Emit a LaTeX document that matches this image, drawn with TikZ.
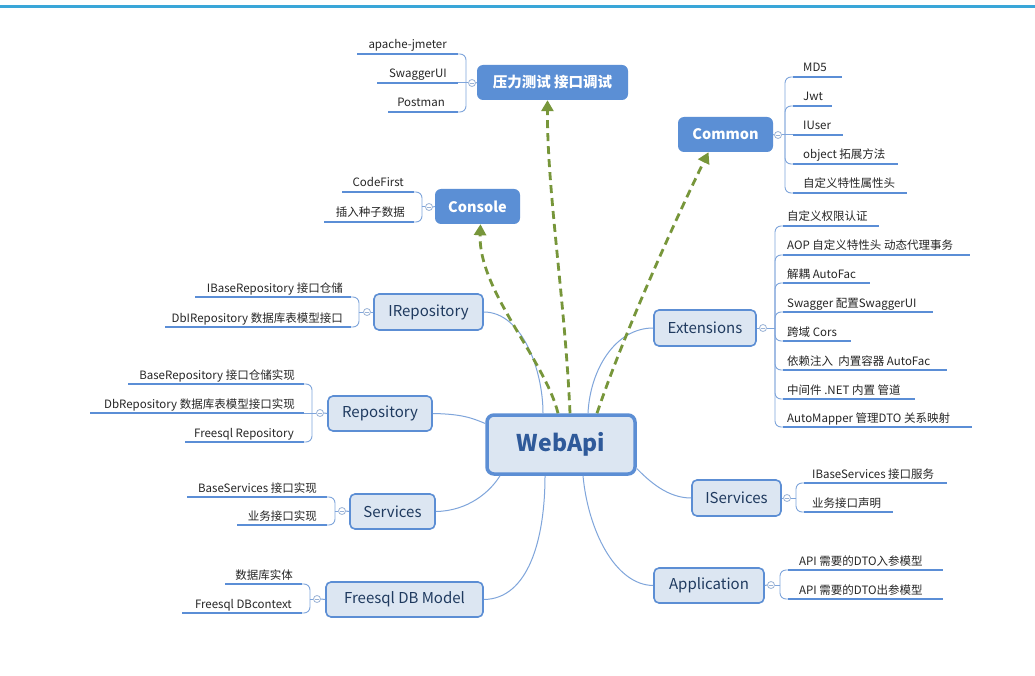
\documentclass[tikz,border=0pt]{standalone}
\usepackage{fontspec}
\setmainfont{Noto Sans CJK SC}
\usetikzlibrary{arrows.meta}
\definecolor{topbar}{HTML}{3AA6D8}
\definecolor{nodefill}{HTML}{DCE6F2}
\definecolor{nodeline}{HTML}{5C8ED4}
\definecolor{darkfill}{HTML}{5B8FD5}
\definecolor{txt}{HTML}{1F3A5F}
\definecolor{webtxt}{HTML}{2F5A9A}
\definecolor{ulcol}{HTML}{5B8ED6}
\definecolor{brkcol}{HTML}{7FA5DB}
\definecolor{gdash}{HTML}{77963A}
\definecolor{circcol}{HTML}{9AB3D6}
\tikzset{
  topic/.style={draw=nodeline, line width=1.6pt, fill=nodefill, rounded corners=5pt, text=txt, font=\fontsize{15}{18}\selectfont, inner sep=0pt},
  mainbox/.style={draw=nodeline, line width=3.5pt, fill=nodefill, rounded corners=7pt, text=webtxt, font=\fontsize{23}{26}\selectfont\bfseries, inner sep=0pt},
  darkbox/.style={fill=darkfill, draw=none, rounded corners=6pt, text=white, font=\fontsize{14.5}{17}\selectfont\bfseries, inner sep=0pt},
  leaf/.style={font=\fontsize{11.5}{13}\selectfont, text=black!85, inner sep=0pt},
  ul/.style={draw=ulcol, line width=2.6pt},
  brkline/.style={draw=brkcol, line width=0.9pt, rounded corners=6pt},
  conn/.style={draw=brkcol, line width=1pt},
  garrow/.style={draw=gdash, line width=2.8pt, dash pattern=on 8pt off 5pt, -{Triangle[length=11pt,width=12pt]}},
  circ/.style={circle, draw=circcol, fill=white, line width=0.8pt, minimum size=7pt, inner sep=0pt,
    path picture={\draw[circcol, line width=0.7pt] ([xshift=-2pt]path picture bounding box.center) -- ([xshift=2pt]path picture bounding box.center);}}
}
\newcommand\LLeaf[5]{%
  \node[leaf,anchor=base east] (#1) at (#3,#2-5) {#5};
  \draw[ul] (#4,#2) -- (\gbx-8,#2);
  \draw[brkline] (\gbx,\gcy) -- (\gbx,#2) -- (\gbx-8,#2);}
\newcommand\LLeafS[5]{%
  \node[leaf,anchor=base east] (#1) at (#3,#2-5) {#5};
  \draw[ul] (#4,#2) -- (\gbx-8,#2);
  \draw[conn] (\gbx-8,#2) -- (\gbx,#2);}
\newcommand\RLeaf[5]{%
  \node[leaf,anchor=base west] (#1) at (#3,#2-5) {#5};
  \draw[ul] (\gbx+8,#2) -- (#4,#2);
  \draw[brkline] (\gbx,\gcy) -- (\gbx,#2) -- (\gbx+8,#2);}
\newcommand\RLeafS[5]{%
  \node[leaf,anchor=base west] (#1) at (#3,#2-5) {#5};
  \draw[ul] (\gbx+8,#2) -- (#4,#2);
  \draw[conn] (\gbx,#2) -- (\gbx+8,#2);}
\begin{document}
\begin{tikzpicture}[x=1pt,y=-1pt]
\useasboundingbox (0,0) rectangle (1035,676);
\fill[white] (0,0) rectangle (1035,676);
\fill[topbar] (0,5) rectangle (1035,8);

% main and topic nodes
\node[mainbox, minimum width=148pt, minimum height=59pt] (web) at (561,444.5) {WebApi};
\node[topic, minimum width=109pt, minimum height=36pt] (irepo) at (428.5,312) {IRepository};
\node[topic, minimum width=104pt, minimum height=35pt] (repo) at (380,413.5) {Repository};
\node[topic, minimum width=85pt, minimum height=35pt] (serv) at (392.5,511.5) {Services};
\node[topic, minimum width=157pt, minimum height=35pt] (model) at (404.5,599.5) {Freesql DB Model};
\node[topic, minimum width=102pt, minimum height=36pt] (ext) at (705,328) {Extensions};
\node[topic, minimum width=89pt, minimum height=36pt] (iserv) at (736.5,498) {IServices};
\node[topic, minimum width=110pt, minimum height=35pt] (app) at (709,585.5) {Application};
\node[darkbox, minimum width=151pt, minimum height=35pt] (test) at (552.5,82.5) {压力测试 接口调试};
\node[darkbox, minimum width=95pt, minimum height=35pt] (common) at (725.5,134.5) {Common};
\node[darkbox, minimum width=85pt, minimum height=35pt] (console) at (477.5,206.5) {Console};

% connectors from the centre
\draw[conn] (irepo.east) .. controls (522,312) and (543,370) .. ([xshift=-18pt]web.north);
\draw[conn] (repo.east) .. controls (462,414) and (472,418) .. ([yshift=21pt]web.west);
\draw[conn] (serv.east) .. controls (468,511) and (490,492) .. ([xshift=-61pt]web.south);
\draw[conn] (model.east) .. controls (528,599) and (545,540) .. ([xshift=-16pt]web.south);
\draw[conn] (ext.west) .. controls (615,328) and (590,370) .. ([xshift=27pt]web.north);
\draw[conn] (iserv.west) .. controls (668,498) and (650,482) .. ([yshift=-24pt]web.east);
\draw[conn] (app.west) .. controls (615,585) and (588,530) .. ([xshift=22pt]web.south);

\draw[garrow] ([xshift=-3pt]web.north) .. controls (545,360) and (478,290) .. ([xshift=3pt]console.south);
\draw[garrow] ([xshift=9pt]web.north) .. controls (565,300) and (547,190) .. ([xshift=-5pt]test.south);
\draw[garrow] ([xshift=36pt]web.north) .. controls (625,330) and (680,210) .. ([xshift=-17pt]common.south);

% 压力测试 group
\def\gbx{466}\def\gcy{83}
\node[circ] (ctest) at (472,83) {};
\draw[conn] (test.west) -- (ctest.east);
\draw[conn] (ctest.west) -- (\gbx,\gcy);
\LLeaf{t1}{54}{447}{357}{apache-jmeter}
\LLeafS{t2}{83}{447}{377}{SwaggerUI}
\LLeaf{t3}{112}{445}{388}{Postman}

% Console group
\def\gbx{422}\def\gcy{207}
\node[circ] (cconsole) at (429,207) {};
\draw[conn] (console.west) -- (cconsole.east);
\draw[conn] (cconsole.west) -- (\gbx,\gcy);
\LLeaf{c1}{192}{404}{342}{CodeFirst}
\LLeaf{c2}{222}{405}{324}{插入种子数据}

% IRepository group
\def\gbx{359}\def\gcy{312}
\node[circ] (cirepo) at (367,312) {};
\draw[conn] (irepo.west) -- (cirepo.east);
\draw[conn] (cirepo.west) -- (\gbx,\gcy);
\LLeaf{ir1}{297}{343}{195}{IBaseRepository 接口仓储}
\LLeaf{ir2}{327}{343}{165}{DbIRepository 数据库表模型接口}

% Repository group
\def\gbx{312}\def\gcy{413}
\node[circ] (crepo) at (320,413) {};
\draw[conn] (repo.west) -- (crepo.east);
\draw[conn] (crepo.west) -- (\gbx,\gcy);
\LLeaf{r1}{384}{295}{128}{BaseRepository 接口仓储实现}
\LLeafS{r2}{413}{295}{90}{DbRepository 数据库表模型接口实现}
\LLeaf{r3}{442}{294}{185}{Freesql Repository}

% Services group
\def\gbx{335}\def\gcy{511}
\node[circ] (cserv) at (342,511) {};
\draw[conn] (serv.west) -- (cserv.east);
\draw[conn] (cserv.west) -- (\gbx,\gcy);
\LLeaf{s1}{497}{317}{187}{BaseServices 接口实现}
\LLeaf{s2}{525}{317}{237}{业务接口实现}

% Freesql DB Model group
\def\gbx{310}\def\gcy{599}
\node[circ] (cmodel) at (317,599) {};
\draw[conn] (model.west) -- (cmodel.east);
\draw[conn] (cmodel.west) -- (\gbx,\gcy);
\LLeaf{m1}{584}{293}{225}{数据库实体}
\LLeaf{m2}{613}{292}{182}{Freesql DBcontext}

% Common group
\def\gbx{785}\def\gcy{135}
\node[circ] (ccommon) at (778,135) {};
\draw[conn] (common.east) -- (ccommon.west);
\draw[conn] (ccommon.east) -- (\gbx,\gcy);
\RLeaf{co1}{77}{803}{842}{MD5}
\RLeaf{co2}{106}{803}{832}{Jwt}
\RLeafS{co3}{135}{803}{843}{IUser}
\RLeaf{co4}{164}{803}{898}{object 拓展方法}
\RLeaf{co5}{193}{803}{907}{自定义特性属性头}

% Extensions group
\def\gbx{775}\def\gcy{328}
\node[circ] (cext) at (763,328) {};
\draw[conn] (ext.east) -- (cext.west);
\draw[conn] (cext.east) -- (\gbx,\gcy);
\RLeaf{e1}{226}{787}{879}{自定义权限认证}
\RLeaf{e2}{255}{787}{970}{AOP 自定义特性头 动态代理事务}
\RLeaf{e3}{283}{787}{870}{解耦 AutoFac}
\RLeaf{e4}{312}{787}{933}{Swagger 配置SwaggerUI}
\RLeaf{e5}{341}{787}{851}{跨域 Cors}
\RLeaf{e6}{370}{787}{947}{依赖注入\ \ 内置容器 AutoFac}
\RLeaf{e7}{399}{787}{915}{中间件 .NET 内置 管道}
\RLeaf{e8}{427}{787}{972}{AutoMapper 管理DTO 关系映射}

% IServices group
\def\gbx{796}\def\gcy{498}
\node[circ] (ciserv) at (787,498) {};
\draw[conn] (iserv.east) -- (ciserv.west);
\draw[conn] (ciserv.east) -- (\gbx,\gcy);
\RLeaf{is1}{483}{812}{947}{IBaseServices 接口服务}
\RLeaf{is2}{512}{812}{893}{业务接口声明}

% Application group
\def\gbx{780}\def\gcy{585}
\node[circ] (capp) at (771,585) {};
\draw[conn] (app.east) -- (capp.west);
\draw[conn] (capp.east) -- (\gbx,\gcy);
\RLeaf{a1}{570}{799}{943}{API 需要的DTO入参模型}
\RLeaf{a2}{599}{799}{943}{API 需要的DTO出参模型}
\end{tikzpicture}
\end{document}
